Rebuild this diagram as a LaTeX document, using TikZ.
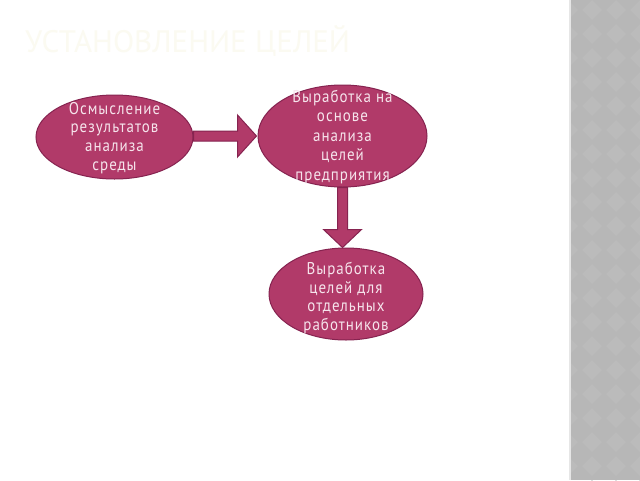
\documentclass[tikz,border=0pt]{standalone}
\usepackage{fontspec}
\setmainfont{PT Sans}
\newfontfamily\nodefont[LetterSpace=6,FakeStretch=0.88]{PT Sans}
\newfontfamily\titlefont{PT Sans}
\usetikzlibrary{shapes.geometric,calc}
\definecolor{ellfill}{HTML}{B13A69}
\definecolor{ellborder}{HTML}{862350}
\definecolor{ellText}{HTML}{F6E4EC}
\definecolor{titlecol}{HTML}{FBFAF1}
\definecolor{stripe}{HTML}{B7B7B7}
\definecolor{stripelight}{HTML}{BBBBBB}
\definecolor{stripeedge}{HTML}{E6E6E6}
\tikzset{
  ellbox/.style={ellipse, draw=ellborder, line width=1pt, fill=ellfill, inner sep=0pt},
  elltext/.style={text=ellText, align=center, inner sep=0pt,
    font=\nodefont\fontsize{17}{18.8}\selectfont},
  blockarrow/.style={draw=ellborder, line width=1pt, fill=ellfill, line join=miter}
}
\begin{document}
\begin{tikzpicture}[x=1pt,y=-1pt]
\useasboundingbox (0,0) rectangle (640,480);
\fill[white] (0,0) rectangle (640,480);
% right stripe with faint diamond texture
\fill[stripe] (571,0) rectangle (640,480);
\begin{scope}
  \clip (571,0) rectangle (640,480);
  \foreach \i in {0,...,3} {
    \foreach \j in {0,...,20} {
      \fill[stripelight] (568+\i*24,\j*24) -- ++(10,10) -- ++(-10,10) -- ++(-10,-10) -- cycle;
    }
  }
\end{scope}
\fill[stripeedge] (569,0) rectangle (571,480);
% title
\node[anchor=west, text=titlecol, font=\titlefont\fontsize{31}{34}\selectfont, inner sep=0pt] (title) at (25,41) {УСТАНОВЛЕНИЕ ЦЕЛЕЙ};
% ellipses
\node[ellbox, minimum width=157pt, minimum height=84pt,
  label={[elltext, yshift=-1pt]center:Осмысление\\результатов\\анализа\\среды}] (e1) at (114.5,137) {};
\node[ellbox, minimum width=169pt, minimum height=102pt,
  label={[elltext, yshift=-1pt, font=\nodefont\fontsize{17}{19.5}\selectfont]center:Выработка на\\основе\\анализа\\целей\\предприятия}] (e2) at (342.5,136) {};
\node[ellbox, minimum width=154pt, minimum height=92pt,
  label={[elltext, yshift=-4pt]center:Выработка\\целей для\\отдельных\\работников}] (e3) at (346,294) {};
% block arrows
\draw[blockarrow] let \p1=(e1.east), \p2=(e2.west) in
  (\x1,\y2-5pt) -- (\x2-20pt,\y2-5pt) -- (\x2-20pt,\y2-21pt) -- (\x2-1pt,\y2)
  -- (\x2-20pt,\y2+21pt) -- (\x2-20pt,\y2+5pt) -- (\x1,\y2+5pt) -- cycle;
\draw[blockarrow] let \p1=(e2.south), \p2=(e3.north) in
  (\x1-5pt,\y1) -- (\x1-5pt,\y2+18pt) -- (\x1-19pt,\y2+18pt) -- (\x1,\y2)
  -- (\x1+19pt,\y2+18pt) -- (\x1+5pt,\y2+18pt) -- (\x1+5pt,\y1) -- cycle;
\end{tikzpicture}
\end{document}
